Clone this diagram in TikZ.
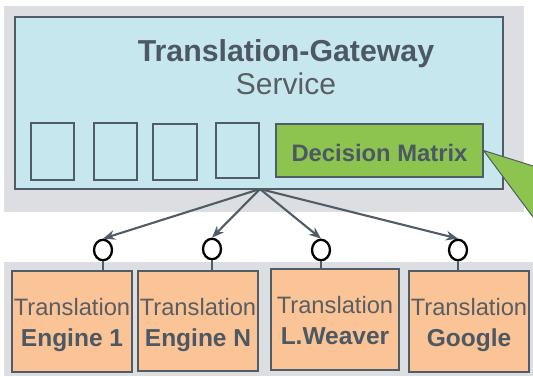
\documentclass[tikz,border=0pt]{standalone}
\usepackage{fontspec}
\setmainfont{Liberation Sans}
\usetikzlibrary{arrows.meta,shapes.geometric}
\definecolor{bgGray}{RGB}{221,222,225}
\definecolor{svcBlue}{RGB}{199,231,238}
\definecolor{dmGreen}{RGB}{141,196,80}
\definecolor{engOrange}{RGB}{250,196,150}
\definecolor{slate}{RGB}{80,92,102}
\definecolor{txt}{RGB}{76,88,99}
\definecolor{txtlight}{RGB}{88,94,100}
\begin{document}
\begin{tikzpicture}[x=1pt,y=-1pt,
  band/.style={fill=bgGray, draw=none, inner sep=0pt, outer sep=0pt},
  bluebox/.style={fill=svcBlue, draw=slate, line width=1.1pt, inner sep=0pt},
  slot/.style={fill=svcBlue, draw=slate, line width=1.1pt, inner sep=0pt},
  dmbox/.style={fill=dmGreen, draw=slate, line width=1.1pt, inner sep=0pt},
  engbox/.style={fill=engOrange, draw=slate, line width=1.1pt, inner sep=0pt},
  port/.style={ellipse, draw=black, line width=2.3pt, fill=white, inner sep=0pt, minimum width=18pt, minimum height=20.5pt},
  stem/.style={draw=slate, line width=1.8pt},
  arr/.style={draw=slate, line width=2.1pt, -{Stealth[length=12pt,width=9.5pt]}},
  lblreg/.style={anchor=base, inner sep=0pt, text=txtlight, font=\fontsize{23.7}{26}\selectfont},
  lblbold/.style={anchor=base, inner sep=0pt, text=txt, font=\fontsize{24.5}{27}\selectfont\bfseries},
]
\useasboundingbox (0,0) rectangle (533,376);
% background bands
\node[band, minimum width=520pt, minimum height=206pt] (topband) at (264,109) {};
\node[band, minimum width=529pt, minimum height=114pt] (botband) at (268.5,319) {};
% gateway service box
\node[bluebox, minimum width=488pt, minimum height=172pt] (gw) at (259,103) {};
\node[anchor=base, inner sep=0pt, text=txt, font=\fontsize{30.3}{35}\selectfont\bfseries] (title) at (286,61) {Translation-Gateway};
\node[anchor=base, inner sep=0pt, text=txtlight, font=\fontsize{30}{35}\selectfont] (service) at (286,94) {Service};
% slots
\node[slot, minimum width=43pt, minimum height=57pt] (s1) at (52.5,151.5) {};
\node[slot, minimum width=43pt, minimum height=57pt] (s2) at (115.5,151.5) {};
\node[slot, minimum width=44pt, minimum height=56pt] (s3) at (175,152) {};
\node[slot, minimum width=43pt, minimum height=55pt] (s4) at (237.5,150.5) {};
% decision matrix
\node[dmbox, minimum width=207pt, minimum height=53pt] (dm) at (379.5,150.5) {};
\node[anchor=base, inner sep=0pt, text=txt, font=\fontsize{23.8}{27}\selectfont\bfseries] (dmtext) at (379.5,161) {Decision Matrix};
% callout wedge
\coordinate (cu) at (533,166);
\coordinate (cl) at (533,217);
\fill[dmGreen] (dm.east) -- (cu) -- (cl) -- cycle;
\draw[slate, line width=1pt] (cu) -- (dm.east) -- (cl);
% engines
\node[engbox, minimum width=120pt, minimum height=101pt] (e1) at (72,321.5) {};
\node[engbox, minimum width=120pt, minimum height=100pt] (e2) at (198,321) {};
\node[engbox, minimum width=128pt, minimum height=101pt] (e3) at (335,319.5) {};
\node[engbox, minimum width=120pt, minimum height=101pt] (e4) at (469,321.5) {};
\node[lblreg] (e1a) at (e1.center |- 0,315) {Translation};
\node[lblbold] (e1b) at (e1.center |- 0,346) {Engine 1};
\node[lblreg] (e2a) at (e2.center |- 0,315) {Translation};
\node[lblbold] (e2b) at (e2.center |- 0,346) {Engine N};
\node[lblreg] (e3a) at (e3.center |- 0,313) {Translation};
\node[lblbold] (e3b) at (e3.center |- 0,344) {L.Weaver};
\node[lblreg] (e4a) at (e4.center |- 0,315) {Translation};
\node[lblbold] (e4b) at (e4.center |- 0,346) {Google};
% ports
\node[port] (c1) at (103,250) {};
\node[port] (c2) at (212,249) {};
\node[port] (c3) at (321,250) {};
\node[port] (c4) at (458,250) {};
\draw[stem] (c1.south) -- (c1.south |- e1.north);
\draw[stem] (c2.south) -- (c2.south |- e2.north);
\draw[stem] (c3.south) -- (c3.south |- e3.north);
\draw[stem] (c4.south) -- (c4.south |- e4.north);
% arrows
\coordinate (hub) at (260,189);
\draw[arr] (hub) -- (c1.north);
\draw[arr] (hub) -- (c2.north);
\draw[arr] (hub) -- (c3.north);
\draw[arr] (hub) -- (c4.north);
\end{tikzpicture}
\end{document}
